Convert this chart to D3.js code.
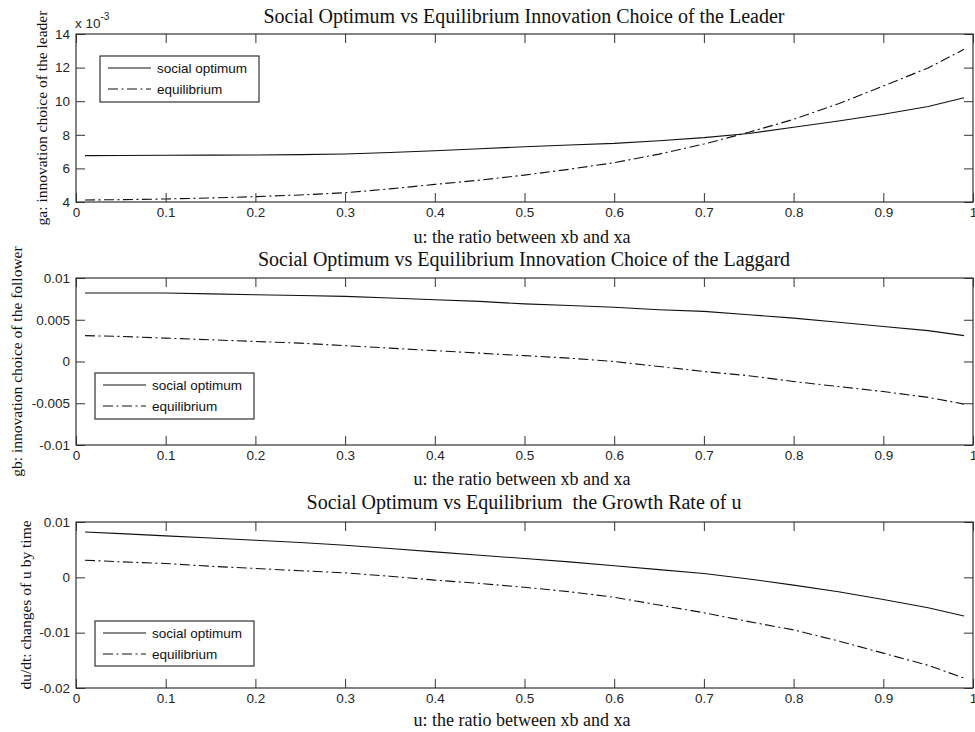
<!DOCTYPE html>
<html>
<head>
<meta charset="utf-8">
<script src="https://cdn.jsdelivr.net/npm/d3@7"></script>
<style>
  html, body { margin: 0; padding: 0; background: #fff; }
  svg { display: block; }
  .tick-label { font-family: "Liberation Sans", Arial, sans-serif; font-size: 13.5px; fill: #262626; }
  .title { font-family: "Liberation Serif", "Times New Roman", serif; font-size: 20px; fill: #111; white-space: pre; }
  .x-label { font-family: "Liberation Serif", "Times New Roman", serif; font-size: 18px; fill: #111; }
  .y-label { font-family: "Liberation Serif", "Times New Roman", serif; font-size: 15.5px; fill: #111; }
  .legend-text { font-family: "Liberation Sans", Arial, sans-serif; font-size: 13.5px; fill: #111; }
</style>
</head>
<body>
<svg id="chart" width="975" height="732"></svg>
<script>
// u: ratio between xb and xa
const uValues = [0.01, 0.05, 0.10, 0.15, 0.20, 0.25, 0.30, 0.35, 0.40, 0.45, 0.50,
                 0.55, 0.60, 0.65, 0.70, 0.75, 0.80, 0.85, 0.90, 0.95, 0.99];

// ga: innovation choice of the leader
const leaderSocial = [0.00676, 0.00677, 0.00678, 0.00679, 0.00680, 0.00682, 0.00686, 0.00695, 0.00705, 0.00717, 0.00729,
                      0.00739, 0.00749, 0.00765, 0.00783, 0.00808, 0.00845, 0.00882, 0.00922, 0.00968, 0.01021];
const leaderEquilibrium = [0.00412, 0.00414, 0.00418, 0.00424, 0.00432, 0.00442, 0.00455, 0.00478, 0.00505, 0.00530, 0.00560,
                           0.00595, 0.00634, 0.00685, 0.00745, 0.00815, 0.00892, 0.00985, 0.01090, 0.01198, 0.01309];

// gb: innovation choice of the follower
const laggardSocial = [0.0082, 0.0082, 0.0082, 0.0081, 0.0080, 0.0079, 0.0078, 0.0076, 0.0074, 0.0072, 0.0069,
                       0.0067, 0.0065, 0.0062, 0.0060, 0.0056, 0.0052, 0.0047, 0.0042, 0.0037, 0.0031];
const laggardEquilibrium = [0.0031, 0.0030, 0.0028, 0.0026, 0.0024, 0.0022, 0.0019, 0.0016, 0.0013, 0.0010, 0.0007,
                            0.0004, 0.0000, -0.0006, -0.0012, -0.0017, -0.0024, -0.0030, -0.0036, -0.0043, -0.0051];

// du/dt: growth rate of u
const growthSocial = [0.0082, 0.0079, 0.0075, 0.0071, 0.0067, 0.0063, 0.0058, 0.0052, 0.0046, 0.0040, 0.0034,
                      0.0028, 0.0021, 0.0014, 0.0007, -0.0003, -0.0014, -0.0026, -0.0040, -0.0055, -0.0070];
const growthEquilibrium = [0.0031, 0.0028, 0.0025, 0.0020, 0.0016, 0.0012, 0.0008, 0.0002, -0.0005, -0.0011, -0.0018,
                           -0.0026, -0.0036, -0.0050, -0.0064, -0.0080, -0.0095, -0.0115, -0.0137, -0.0159, -0.0182];

// axis ticks
const xTicks = [0, 0.1, 0.2, 0.3, 0.4, 0.5, 0.6, 0.7, 0.8, 0.9, 1];
const xTickLabels = ["0", "0.1", "0.2", "0.3", "0.4", "0.5", "0.6", "0.7", "0.8", "0.9", "1"];
const leaderTicks = [0.004, 0.006, 0.008, 0.010, 0.012, 0.014];
const leaderTickLabels = ["4", "6", "8", "10", "12", "14"];
const laggardTicks = [-0.01, -0.005, 0, 0.005, 0.01];
const laggardTickLabels = ["-0.01", "-0.005", "0", "0.005", "0.01"];
const growthTicks = [-0.02, -0.01, 0, 0.01];
const growthTickLabels = ["-0.02", "-0.01", "0", "0.01"];

const seriesNames = ["social optimum", "equilibrium"];
const titles = [
  "Social Optimum vs Equilibrium Innovation Choice of the Leader",
  "Social Optimum vs Equilibrium Innovation Choice of the Laggard",
  "Social Optimum vs Equilibrium  the Growth Rate of u"
];
const yLabels = [
  "ga: innovation choice of the leader",
  "gb: innovation choice of the follower",
  "du/dt: changes of u by time"
];
const xLabel = "u: the ratio between xb and xa";

const svg = d3.select("#chart");
const DASH_DOT = "10,3.5,2,3.5";
const AXIS_COLOR = "#333";
const LINE_COLOR = "#111";

const panels = [
  { top: 34, bottom: 202, domain: [0.004, 0.014], ticks: leaderTicks, labels: leaderTickLabels,
    social: leaderSocial, equil: leaderEquilibrium, title: titles[0], yLabel: yLabels[0],
    titleY: 16, xLabelY: 237, yLabelX: 41, legend: { x: 100, y: 56, w: 159, h: 46 }, exponent: true },
  { top: 278, bottom: 445, domain: [-0.01, 0.01], ticks: laggardTicks, labels: laggardTickLabels,
    social: laggardSocial, equil: laggardEquilibrium, title: titles[1], yLabel: yLabels[1],
    titleY: 259, xLabelY: 479, yLabelX: 16, legend: { x: 95, y: 373, w: 159, h: 46 } },
  { top: 522, bottom: 688, domain: [-0.02, 0.01], ticks: growthTicks, labels: growthTickLabels,
    social: growthSocial, equil: growthEquilibrium, title: titles[2], yLabel: yLabels[2],
    titleY: 502, xLabelY: 720, yLabelX: 25, legend: { x: 95, y: 621, w: 159, h: 45 } }
];

const left = 76, right = 973;
const x = d3.scaleLinear().domain([0, 1]).range([left, right]);
const TICK_LEN = 9;

panels.forEach(p => {
  const y = d3.scaleLinear().domain(p.domain).range([p.bottom, p.top]);
  const g = svg.append("g");

  // curves
  const line = d3.line().x((d, i) => x(uValues[i])).y(d => y(d));
  g.append("path").datum(p.social).attr("d", line)
    .attr("fill", "none").attr("stroke", LINE_COLOR).attr("stroke-width", 1.1);
  g.append("path").datum(p.equil).attr("d", line)
    .attr("fill", "none").attr("stroke", LINE_COLOR).attr("stroke-width", 1.1)
    .attr("stroke-dasharray", DASH_DOT);

  // x ticks (inside, top and bottom)
  const xAxisBottom = d3.axisBottom(x).tickValues(xTicks).tickSize(-TICK_LEN).tickPadding(5)
    .tickFormat((d, i) => xTickLabels[i]);
  const gx = g.append("g").attr("transform", `translate(0,${p.bottom})`).call(xAxisBottom);
  const xAxisTop = d3.axisTop(x).tickValues(xTicks).tickSize(-TICK_LEN).tickFormat("");
  const gxt = g.append("g").attr("transform", `translate(0,${p.top})`).call(xAxisTop);

  // y ticks (inside, left and right)
  const yAxisLeft = d3.axisLeft(y).tickValues(p.ticks).tickSize(-TICK_LEN).tickPadding(6)
    .tickFormat((d, i) => p.labels[i]);
  const gy = g.append("g").attr("transform", `translate(${left},0)`).call(yAxisLeft);
  const yAxisRight = d3.axisRight(y).tickValues(p.ticks).tickSize(-TICK_LEN).tickFormat("");
  const gyr = g.append("g").attr("transform", `translate(${right},0)`).call(yAxisRight);

  [gx, gxt, gy, gyr].forEach(a => {
    a.select(".domain").remove();
    a.selectAll(".tick line").attr("stroke", AXIS_COLOR).attr("stroke-width", 1);
    a.selectAll(".tick text").attr("class", "tick-label").attr("fill", null);
  });

  // box
  g.append("rect").attr("x", left).attr("y", p.top)
    .attr("width", right - left).attr("height", p.bottom - p.top)
    .attr("fill", "none").attr("stroke", AXIS_COLOR).attr("stroke-width", 1.2);

  // title
  g.append("text").attr("class", "title").attr("x", 524).attr("y", p.titleY)
    .attr("text-anchor", "middle").attr("dominant-baseline", "central")
    .attr("xml:space", "preserve").text(p.title);

  // axis labels
  g.append("text").attr("class", "x-label").attr("x", 522).attr("y", p.xLabelY)
    .attr("text-anchor", "middle").attr("dominant-baseline", "central").text(xLabel);
  g.append("text").attr("class", "y-label")
    .attr("transform", `translate(${p.yLabelX},${(p.top + p.bottom) / 2}) rotate(-90)`)
    .attr("text-anchor", "middle").attr("dominant-baseline", "central").text(p.yLabel);

  // exponent marker
  if (p.exponent) {
    const t = g.append("text").attr("class", "tick-label").attr("x", 75).attr("y", 28);
    t.append("tspan").text("x 10");
    t.append("tspan").attr("dy", -8).attr("font-size", "10px").text("-3");
  }

  // legend
  const L = p.legend;
  const lg = g.append("g").attr("transform", `translate(${L.x},${L.y})`);
  lg.append("rect").attr("width", L.w).attr("height", L.h)
    .attr("fill", "#fff").attr("stroke", AXIS_COLOR).attr("stroke-width", 1.2);
  seriesNames.forEach((name, i) => {
    const ly = 12 + i * 21;
    lg.append("line").attr("x1", 8).attr("x2", 51).attr("y1", ly).attr("y2", ly)
      .attr("stroke", LINE_COLOR).attr("stroke-width", 1.1)
      .attr("stroke-dasharray", i === 1 ? DASH_DOT : null);
    lg.append("text").attr("class", "legend-text").attr("x", 57).attr("y", ly)
      .attr("dominant-baseline", "central").text(name);
  });
});
</script>
</body>
</html>
